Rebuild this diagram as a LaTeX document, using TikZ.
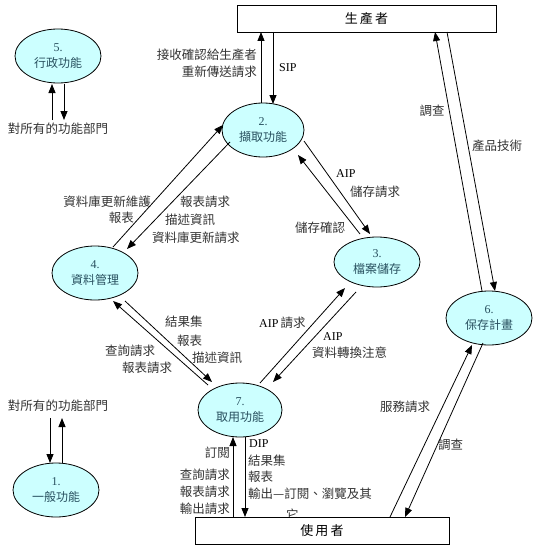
\documentclass[tikz,border=0pt]{standalone}
\usepackage{fontspec}
\setmainfont{Liberation Serif}
\newfontfamily\cjk{Noto Sans CJK TC}
\usetikzlibrary{shapes.geometric,arrows.meta}
\definecolor{cyanfill}{RGB}{204,255,255}
\definecolor{proctext}{RGB}{40,80,95}
\tikzset{
 proc/.style={ellipse, draw, line width=0.8pt, fill=cyanfill, minimum width=86pt, minimum height=54pt, inner sep=0pt, align=center, text=proctext, font=\fontsize{12}{17}\selectfont},
 ent/.style={draw, line width=0.8pt, fill=white, inner sep=0pt, font=\cjk\fontsize{13}{15}\selectfont},
 lbl/.style={inner sep=0pt, text=black!80, font=\cjk\fontsize{12.5}{15}\selectfont},
 lat/.style={inner sep=0pt, font=\fontsize{12}{14}\selectfont},
 arr/.style={-{Triangle[length=9pt,width=7pt]}, line width=0.8pt},
}
\begin{document}
\begin{tikzpicture}[x=1pt,y=-1pt]
\useasboundingbox (0,0) rectangle (533,551);
% ---------- labels ----------
\node[lbl] (t5) at (58,129) {對所有的功能部門};
\node[lbl] (t1) at (58,406) {對所有的功能部門};
\node[lbl, anchor=east] (l1) at (257,55) {接收確認給生產者};
\node[lbl, anchor=east] (l2) at (257,72) {重新傳送請求};
\node[lat, anchor=west] (l3) at (279,68) {SIP};
\node[lbl, anchor=center] (l4) at (432,111) {調查};
\node[lbl, anchor=west] (l5) at (472,146) {產品技術};
\node[lbl, anchor=east] (l6) at (151,202) {資料庫更新維護};
\node[lbl, anchor=east] (l7) at (134,218) {報表};
\node[lbl, anchor=west] (l8) at (180,202) {報表請求};
\node[lbl, anchor=west] (l9) at (165,220) {描述資訊};
\node[lbl, anchor=west] (l10) at (152,238) {資料庫更新請求};
\node[lat, anchor=west] (l11) at (336,174) {AIP};
\node[lbl, anchor=west] (l12) at (350,192) {儲存請求};
\node[lbl, anchor=west] (l13) at (295,228) {儲存確認};
\node[lbl, anchor=west] (l14) at (165,322) {結果集};
\node[lbl, anchor=west] (l15) at (177,341) {報表};
\node[lbl, anchor=west] (l16) at (192,358) {描述資訊};
\node[lbl, anchor=west] (l17) at (105,351) {查詢請求};
\node[lbl, anchor=west] (l18) at (122,368) {報表請求};
\node[anchor=west, inner sep=0pt] (l19) at (259,323) {\fontsize{12}{14}\selectfont AIP\,\cjk\fontsize{12.5}{15}\selectfont\color{black!80} 請求};
\node[lat, anchor=west] (l20) at (323,337) {AIP};
\node[lbl, anchor=west] (l21) at (312,353) {資料轉換注意};
\node[lbl, anchor=west] (l22) at (380,407) {服務請求};
\node[lbl, anchor=west] (l23) at (438,445) {調查};
\node[lbl, anchor=east] (l24) at (230,453) {訂閱};
\node[lbl, anchor=east] (l25) at (230,475) {查詢請求};
\node[lbl, anchor=east] (l26) at (230,492) {報表請求};
\node[lbl, anchor=east] (l27) at (230,509) {輸出請求};
\node[lat, anchor=west] (l28) at (249,444) {DIP};
\node[lbl, anchor=west] (l29) at (248,461) {結果集};
\node[lbl, anchor=west] (l30) at (248,477) {報表};
\node[lbl, anchor=west] (l31) at (248,494) {輸出—訂閱、瀏覽及其};
\node[lbl, anchor=west] (l32) at (286,515) {它};
% ---------- entities ----------
\node[ent, minimum width=259pt, minimum height=27pt] (prod) at (366.5,18.5) {生\,產\,者};
\node[ent, minimum width=254pt, minimum height=27pt] (cons) at (322,530.5) {使\,用\,者};
% ---------- processes ----------
\node[proc] (e5) at (58,56) {5.\\[-1pt]{\cjk 行政功能}};
\node[proc, minimum width=82pt, minimum height=54pt] (e2) at (263,130) {2.\\[-1pt]{\cjk 擷取功能}};
\node[proc, minimum height=50pt] (e3) at (377,262) {3.\\[-1pt]{\cjk 檔案儲存}};
\node[proc] (e4) at (95,273) {4.\\[-1pt]{\cjk 資料管理}};
\node[proc] (e6) at (489,318) {6.\\[-1pt]{\cjk 保存計畫}};
\node[proc, minimum width=84pt] (e7) at (240,410) {7.\\[-1pt]{\cjk 取用功能}};
\node[proc] (e1) at (56,490) {1.\\[-1pt]{\cjk 一般功能}};
% ---------- connector end points ----------
\coordinate (a1) at (52,120); \coordinate (a2) at (52,84);
\coordinate (a3) at (64,84);  \coordinate (a4) at (64,120);
\coordinate (b1) at (50,418); \coordinate (b2) at (50,463);
\coordinate (b3) at (62,463); \coordinate (b4) at (62,418);
\coordinate (c1) at (261,103); \coordinate (c2) at (261,32);
\coordinate (c3) at (273,32);  \coordinate (c4) at (273,104);
\coordinate (d1) at (113,247); \coordinate (d2) at (223,125);
\coordinate (d3) at (230,142); \coordinate (d4) at (127,249);
\coordinate (f1) at (360,234); \coordinate (f2) at (298,155);
\coordinate (f3) at (304,141); \coordinate (f4) at (370,234);
\coordinate (g1) at (208,385); \coordinate (g2) at (113,301);
\coordinate (g3) at (125,301); \coordinate (g4) at (212,382);
\coordinate (h1) at (260,383); \coordinate (h2) at (345,288);
\coordinate (h3) at (356,292); \coordinate (h4) at (273,382);
\coordinate (i1) at (482,291); \coordinate (i2) at (435,32);
\coordinate (i3) at (447,32);  \coordinate (i4) at (495,291);
\coordinate (j1) at (390,517); \coordinate (j2) at (472,345);
\coordinate (j3) at (483,343); \coordinate (j4) at (405,517);
\coordinate (k1) at (233,517); \coordinate (k2) at (233,437);
\coordinate (k3) at (245,437); \coordinate (k4) at (245,517);
% ---------- connectors ----------
\draw[arr] (a1) -- (a2);
\draw[arr] (a3) -- (a4);
\draw[arr] (b1) -- (b2);
\draw[arr] (b3) -- (b4);
\draw[arr] (c1) -- (c2);
\draw[arr] (c3) -- (c4);
\draw[arr] (d1) -- (d2);
\draw[arr] (d3) -- (d4);
\draw[arr] (f1) -- (f2);
\draw[arr] (f3) -- (f4);
\draw[arr] (g1) -- (g2);
\draw[arr] (g3) -- (g4);
\draw[arr] (h1) -- (h2);
\draw[arr] (h3) -- (h4);
\draw[arr] (i1) -- (i2);
\draw[arr] (i3) -- (i4);
\draw[arr] (j1) -- (j2);
\draw[arr] (j3) -- (j4);
\draw[arr] (k1) -- (k2);
\draw[arr] (k3) -- (k4);
\end{tikzpicture}
\end{document}
